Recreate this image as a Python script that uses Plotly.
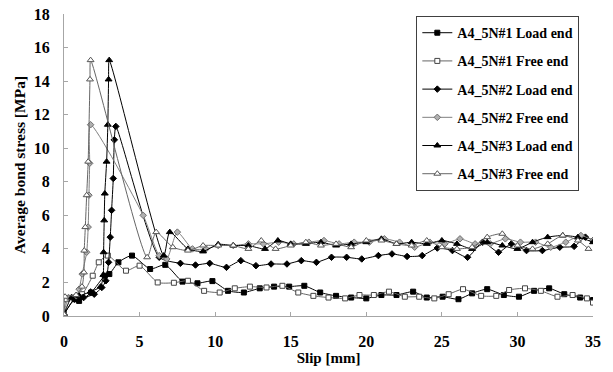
import plotly.graph_objects as go

# ---- data (slip [mm], average bond stress [MPa]) ----
s1_load_x = [0, 0.7, 1.0, 1.8, 2.7, 3.0, 3.6, 4.5, 5.7, 6.7, 7.84, 8.83, 9.82, 10.85, 11.9, 12.95, 13.9, 14.9, 15.9, 16.95, 18.0, 19.0, 20.0, 21.0, 22.0, 23.1, 24.0, 25.05, 26.1, 27.0, 28.0, 29.1, 30.1, 31.1, 32.1, 33.1, 34.15, 35.0]
s1_load_y = [0.1, 1.0, 0.9, 1.4, 2.4, 2.5, 3.2, 3.6, 2.8, 3.05, 2.05, 1.95, 2.08, 1.5, 1.4, 1.65, 1.75, 1.75, 1.8, 1.4, 1.2, 1.1, 1.05, 1.25, 1.25, 1.45, 1.1, 1.15, 1.0, 1.35, 1.6, 1.25, 1.15, 1.5, 1.65, 1.3, 1.1, 0.95]

s1_free_x = [0, 0.15, 0.6, 1.2, 1.9, 2.3, 2.9, 4.1, 5.0, 6.2, 7.27, 8.2, 9.27, 10.3, 11.3, 12.3, 13.4, 14.45, 15.5, 16.5, 17.5, 18.6, 19.55, 20.5, 21.5, 22.55, 23.5, 24.5, 25.45, 26.4, 27.6, 28.6, 29.45, 30.5, 31.55, 32.65, 33.65, 34.6, 35.0]
s1_free_y = [0.1, 1.0, 1.1, 1.3, 2.4, 3.2, 3.6, 2.7, 3.0, 2.0, 1.98, 2.1, 1.5, 1.4, 1.65, 1.75, 1.7, 1.8, 1.4, 1.2, 1.1, 1.05, 1.25, 1.25, 1.45, 1.15, 1.15, 1.05, 1.3, 1.6, 1.2, 1.2, 1.55, 1.65, 1.5, 1.15, 1.25, 1.05, 0.8]

s2_load_x = [0, 0.7, 1.3, 2.0, 2.5, 2.77, 2.95, 3.06, 3.15, 3.26, 3.33, 3.43, 6.3, 7.7, 8.7, 9.64, 10.75, 11.7, 12.7, 13.7, 14.75, 15.7, 16.7, 17.7, 18.7, 19.7, 20.8, 21.7, 22.7, 23.7, 24.7, 25.7, 26.7, 27.7, 28.75, 29.6, 30.6, 31.65, 32.8, 33.75, 34.5, 35.0]
s2_load_y = [0.1, 1.0, 1.1, 1.3, 1.7, 2.1, 3.2, 4.7, 6.3, 8.2, 10.5, 11.3, 3.5, 3.14, 3.04, 3.14, 2.9, 3.3, 3.0, 3.1, 3.1, 3.3, 3.2, 3.5, 3.5, 3.4, 3.6, 3.7, 3.55, 3.6, 4.05, 3.9, 3.5, 4.4, 3.8, 4.3, 3.9, 3.9, 4.1, 4.15, 4.7, 4.5]

s2_free_x = [0, 0.3, 0.8, 1.0, 1.2, 1.5, 1.6, 1.65, 1.7, 1.76, 5.24, 6.3, 6.8, 7.5, 8.5, 9.4, 10.2, 11.2, 12.2, 13.2, 14.2, 15.2, 16.2, 17.2, 18.2, 19.2, 20.2, 21.2, 22.2, 23.2, 24.2, 25.2, 26.2, 27.2, 28.2, 29.2, 30.2, 31.2, 32.2, 33.2, 34.2, 35.0]
s2_free_y = [0.1, 1.1, 1.2, 1.6, 2.5, 3.8, 5.3, 7.2, 9.1, 11.4, 6.0, 3.6, 3.4, 5.0, 4.0, 4.0, 4.2, 4.2, 4.3, 4.3, 4.4, 4.3, 4.4, 4.5, 4.3, 4.4, 4.4, 4.6, 4.4, 4.1, 4.4, 4.3, 4.6, 4.3, 4.3, 4.6, 4.4, 4.4, 4.1, 4.4, 4.8, 4.5]

s3_load_x = [0, 0.5, 1.0, 1.76, 2.42, 2.6, 2.62, 2.66, 2.7, 2.82, 2.9, 2.95, 2.99, 6.6, 7.0, 8.2, 9.2, 10.2, 11.2, 12.2, 13.3, 14.15, 15.0, 16.0, 17.0, 18.0, 19.0, 20.0, 21.0, 22.0, 23.0, 24.0, 25.0, 26.0, 27.0, 28.0, 29.0, 30.0, 31.0, 32.0, 33.0, 34.0, 35.0]
s3_load_y = [0.1, 1.1, 1.2, 1.45, 1.75, 2.45, 3.8, 5.7, 7.3, 9.2, 11.4, 14.1, 15.25, 3.6, 5.0, 4.0, 3.85, 4.27, 4.2, 4.2, 4.0, 4.5, 4.3, 4.3, 4.4, 4.2, 4.3, 4.4, 4.6, 4.3, 4.4, 4.3, 4.5, 4.3, 4.0, 4.4, 4.2, 4.0, 4.4, 4.7, 4.8, 4.7, 4.4]

s3_free_x = [0, 0.07, 0.8, 1.19, 1.32, 1.34, 1.41, 1.5, 1.6, 1.72, 1.76, 5.5, 6.1, 7.2, 8.2, 9.2, 10.2, 11.2, 12.2, 13.05, 14.0, 15.0, 16.0, 17.0, 18.0, 19.0, 20.0, 21.0, 22.0, 23.0, 24.0, 25.0, 26.0, 27.0, 28.0, 29.0, 30.0, 31.0, 32.0, 33.0, 34.0, 34.7]
s3_free_y = [0.1, 1.15, 1.25, 1.75, 2.6, 3.9, 5.3, 7.2, 9.2, 14.1, 15.25, 3.5, 5.0, 4.1, 3.9, 4.2, 4.2, 4.2, 4.0, 4.5, 4.0, 4.2, 4.4, 4.2, 4.3, 4.1, 4.5, 4.5, 4.3, 4.2, 4.5, 4.1, 4.0, 4.1, 4.7, 4.9, 4.2, 4.0, 4.3, 4.8, 4.5, 4.0]

names = ["A4_5N#1 Load end", "A4_5N#1 Free end", "A4_5N#2 Load end",
         "A4_5N#2 Free end", "A4_5N#3 Load end", "A4_5N#3 Free end"]
xs = [s1_load_x, s1_free_x, s2_load_x, s2_free_x, s3_load_x, s3_free_x]
ys = [s1_load_y, s1_free_y, s2_load_y, s2_free_y, s3_load_y, s3_free_y]

x_ticks = [0, 5, 10, 15, 20, 25, 30, 35]
y_ticks = list(range(0, 19, 2))

styles = [
    dict(line="#000000", sym="square", fill="#000000", edge="#000000", size=5),
    dict(line="#666666", sym="square", fill="#ffffff", edge="#444444", size=5),
    dict(line="#000000", sym="diamond", fill="#000000", edge="#000000", size=5),
    dict(line="#808080", sym="diamond", fill="#b0b0b0", edge="#707070", size=5),
    dict(line="#000000", sym="triangle-up", fill="#000000", edge="#000000", size=6),
    dict(line="#666666", sym="triangle-up", fill="#ffffff", edge="#555555", size=6),
]

FONT = "Liberation Serif"

fig = go.Figure()
for i, (n, x, y, st) in enumerate(zip(names, xs, ys, styles)):
    fig.add_trace(go.Scatter(
        x=x, y=y, name="<b>" + n + "</b>", mode="lines+markers", legendgroup=str(i),
        line=dict(color=st["line"], width=1, shape="spline", smoothing=0.6),
        marker=dict(symbol=st["sym"], size=st["size"], color=st["fill"],
                    line=dict(color=st["edge"], width=1)),
    ))

axis_common = dict(
    showgrid=False, zeroline=False, showline=True, linecolor="#a6a6a6", linewidth=1,
    ticks="inside", ticklen=4, tickcolor="#a6a6a6", automargin=False,
    tickfont=dict(family=FONT, size=16, color="#000000"),
)

fig.update_layout(
    width=613, height=372,
    margin=dict(l=64, r=20, t=14, b=56),
    paper_bgcolor="white", plot_bgcolor="white",
    font=dict(family=FONT, color="#000000"),
    xaxis=dict(range=[0, 35], tickvals=x_ticks,
               ticktext=["<b>%d</b>" % v for v in x_ticks],
               ticklabelstandoff=11,
               title=dict(text="<b>Slip [mm]</b>", font=dict(family=FONT, size=15), standoff=1),
               **axis_common),
    yaxis=dict(range=[0, 18], tickvals=y_ticks,
               ticktext=["<b>%d</b>" % v for v in y_ticks],
               ticklabelstandoff=10,
               title=dict(text="<b>Average bond stress [MPa]</b>", font=dict(family=FONT, size=15.5), standoff=4),
               **axis_common),
    legend=dict(x=0.666, y=0.993, xanchor="left", yanchor="top",
                bgcolor="white", bordercolor="#404040", borderwidth=1,
                font=dict(family=FONT, size=14, color="#000000"),
                tracegroupgap=7, itemwidth=30),
    showlegend=True,
)

fig.write_html("out.html")
